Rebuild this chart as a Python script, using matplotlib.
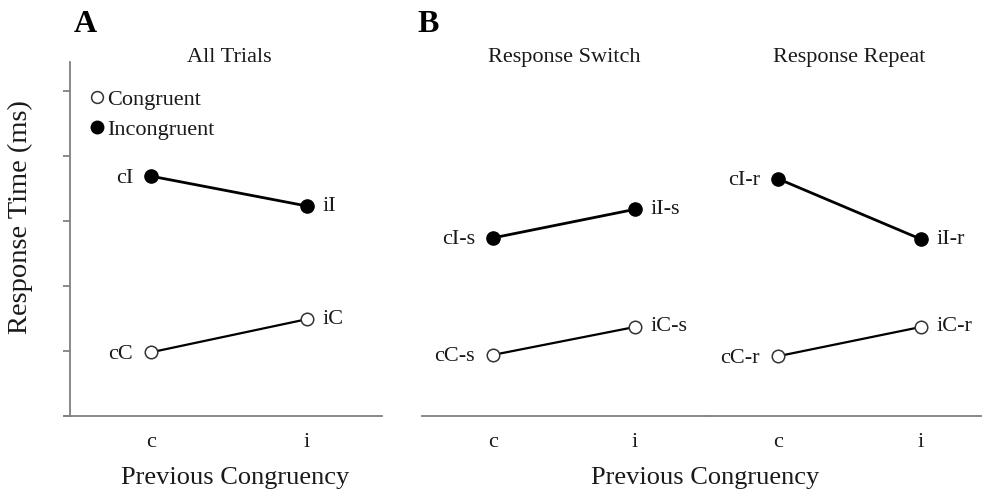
import matplotlib
matplotlib.use("Agg")
import matplotlib.pyplot as plt
from matplotlib.lines import Line2D

plt.rcParams['font.family'] = ['Liberation Serif', 'DejaVu Serif']

# ---- data (arbitrary response-time units; y axis carries no tick labels) ----
prev_levels = ["c", "i"]
all_congruent = [0.98, 1.49]
all_incongruent = [3.69, 3.23]
switch_congruent = [0.94, 1.37]
switch_incongruent = [2.74, 3.18]
repeat_congruent = [0.92, 1.37]
repeat_incongruent = [3.65, 2.72]

all_cong_labels = ["cC", "iC"]
all_incong_labels = ["cI", "iI"]
switch_cong_labels = ["cC-s", "iC-s"]
switch_incong_labels = ["cI-s", "iI-s"]
repeat_cong_labels = ["cC-r", "iC-r"]
repeat_incong_labels = ["cI-r", "iI-r"]

y_ticks = [0, 1, 2, 3, 4, 5]

W, H = 982, 494
fig = plt.figure(figsize=(W / 100, H / 100), dpi=100)

def px_axes(x0, x1, y_top, y_bot):
    return fig.add_axes([x0 / W, 1 - y_bot / H, (x1 - x0) / W, (y_bot - y_top) / H])

spine_col = "#808080"
txt_col = "#1a1a1a"
FS = 16
ylim = (0, (416 - 62) / 65)

axA = px_axes(70, 382, 62, 416)
axB1 = px_axes(422, 706.5, 62, 416)
axB2 = px_axes(706.5, 982, 62, 416)

def draw(ax, cong, incong, cong_lab, incong_lab, xlim):
    x = list(range(len(prev_levels)))
    ax.plot(x, incong, color="black", lw=2.0, marker="o", ms=9.5,
            mfc="black", mec="black", mew=1, zorder=3)
    ax.plot(x, cong, color="black", lw=1.6, marker="o", ms=9,
            mfc="white", mec="#333333", mew=1.1, zorder=3)
    for vals, labs in ((cong, cong_lab), (incong, incong_lab)):
        ax.annotate(labs[0], (x[0], vals[0]), xytext=(-13, -1.5), textcoords="offset points",
                    ha="right", va="center", fontsize=FS, color=txt_col)
        ax.annotate(labs[1], (x[1], vals[1]), xytext=(11, 0), textcoords="offset points",
                    ha="left", va="center", fontsize=FS, color=txt_col)
    ax.set_xlim(*xlim)
    ax.set_ylim(*ylim)
    ax.set_xticks(x)
    ax.set_xticklabels(prev_levels, fontsize=FS, color=txt_col)
    ax.tick_params(axis="x", length=0, pad=12)
    for s in ("top", "right"):
        ax.spines[s].set_visible(False)
    ax.spines["bottom"].set_color(spine_col)
    ax.spines["bottom"].set_linewidth(1.3)
    ax.patch.set_alpha(0)

draw(axA, all_congruent, all_incongruent, all_cong_labels, all_incong_labels, (-0.519, 1.48))
draw(axB1, switch_congruent, switch_incongruent, switch_cong_labels, switch_incong_labels, (-0.5, 1.503))
draw(axB2, repeat_congruent, repeat_incongruent, repeat_cong_labels, repeat_incong_labels, (-0.5, 1.427))

# panel A y axis
axA.spines["left"].set_color(spine_col)
axA.spines["left"].set_linewidth(1.3)
axA.set_yticks(y_ticks)
axA.set_yticklabels([])
axA.tick_params(axis="y", length=5, width=1.3, color=spine_col, direction="out")
axA.spines["bottom"].set_bounds(-0.519 - 5 / 156, 1.48)

for ax in (axB1, axB2):
    ax.spines["left"].set_visible(False)
    ax.set_yticks([])

# titles centred over the two conditions
for ax, t in ((axA, "All Trials"), (axB1, "Response Switch"), (axB2, "Response Repeat")):
    ax.text(0.5, 1.012, t, transform=ax.get_xaxis_transform(), ha="center", va="center",
            fontsize=FS, color=txt_col)

# legend
handles = [Line2D([], [], ls="none", marker="o", ms=8.5, mfc="white", mec="#333333", mew=1.1),
           Line2D([], [], ls="none", marker="o", ms=9, mfc="black", mec="black")]
axA.legend(handles, ["Congruent", "Incongruent"], loc="upper left",
           bbox_to_anchor=(0.068, 0.922), frameon=False, fontsize=FS,
           handlelength=0.5, handletextpad=0.2, borderpad=0, borderaxespad=0,
           labelspacing=0.42, labelcolor=txt_col)

# axis labels
fig.text(20 / W, 1 - 217 / H, "Response Time (ms)", rotation=90, ha="center", va="center",
         fontsize=20.5, color=txt_col)
fig.text(235 / W, 1 - 478 / H, "Previous Congruency", ha="center", va="center",
         fontsize=19, color=txt_col)
fig.text(705 / W, 1 - 478 / H, "Previous Congruency", ha="center", va="center",
         fontsize=19, color=txt_col)

# panel letters
fig.text(85 / W, 1 - 25 / H, "A", ha="center", va="center", fontsize=23,
         fontweight="bold", color="black")
fig.text(428 / W, 1 - 24 / H, "B", ha="center", va="center", fontsize=23,
         fontweight="bold", color="black")

fig.savefig("out.png", dpi=100)
